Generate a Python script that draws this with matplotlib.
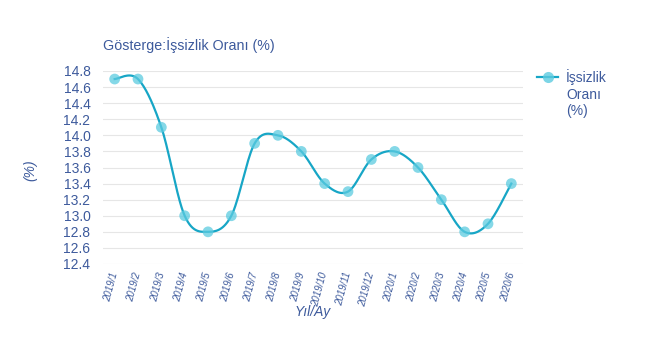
import numpy as np
import matplotlib.pyplot as plt
from matplotlib.lines import Line2D

months = ["2019/1", "2019/2", "2019/3", "2019/4", "2019/5", "2019/6", "2019/7",
          "2019/8", "2019/9", "2019/10", "2019/11", "2019/12", "2020/1", "2020/2",
          "2020/3", "2020/4", "2020/5", "2020/6"]
rate = [14.7, 14.7, 14.1, 13.0, 12.8, 13.0, 13.9, 14.0, 13.8, 13.4, 13.3, 13.7,
        13.8, 13.6, 13.2, 12.8, 12.9, 13.4]
yticks = [12.4, 12.6, 12.8, 13.0, 13.2, 13.4, 13.6, 13.8, 14.0, 14.2, 14.4, 14.6, 14.8]

txt = "#3d5a9c"
line_c = "#17a6c6"
mark_c = "#5ccbe0"

plt.rcParams["font.family"] = ["Liberation Sans", "DejaVu Sans"]


def smooth(xs, ys, n=30, t=0.5):
    # cardinal spline through the points, like the plotly "spline" shape
    xs = np.asarray(xs, float)
    ys = np.asarray(ys, float)
    px = np.concatenate([[xs[0]], xs, [xs[-1]]])
    py = np.concatenate([[ys[0]], ys, [ys[-1]]])
    ox, oy = [], []
    s = np.linspace(0, 1, n)
    h1 = 2 * s**3 - 3 * s**2 + 1
    h2 = -2 * s**3 + 3 * s**2
    h3 = s**3 - 2 * s**2 + s
    h4 = s**3 - s**2
    for i in range(1, len(px) - 2):
        mx0 = (px[i + 1] - px[i - 1]) * t
        my0 = (py[i + 1] - py[i - 1]) * t
        mx1 = (px[i + 2] - px[i]) * t
        my1 = (py[i + 2] - py[i]) * t
        ox.append(h1 * px[i] + h2 * px[i + 1] + h3 * mx0 + h4 * mx1)
        oy.append(h1 * py[i] + h2 * py[i + 1] + h3 * my0 + h4 * my1)
    return np.concatenate(ox), np.concatenate(oy)


fig = plt.figure(figsize=(6.6, 3.46), dpi=100)
ax = fig.add_axes([103 / 660, 1 - 264 / 346, 420 / 660, 193 / 346])

x = np.arange(len(months))
sx, sy = smooth(x, rate)
ax.plot(sx, sy, color=line_c, lw=1.6, zorder=3)
ax.scatter(x, rate, s=60, color=mark_c, alpha=0.75, edgecolors="none", zorder=4)

ax.set_xlim(-0.5, len(months) - 0.5)
ax.set_ylim(12.4, 14.8)
ax.set_yticks(yticks)
ax.set_yticklabels([f"{v:.1f}" for v in yticks], color=txt, fontsize=10)
ax.set_xticks(x)
ax.set_xticklabels(months, rotation=75, rotation_mode="anchor", ha="right",
                   va="center", color=txt, fontsize=7, style="italic")
ax.tick_params(axis="x", length=0, pad=6)
ax.tick_params(axis="y", length=0, pad=9)
ax.grid(axis="y", color="#e6e6e6", lw=0.8)
ax.set_axisbelow(True)
for sp in ax.spines.values():
    sp.set_visible(False)

fig.text(103 / 660, 1 - 45 / 346, "Gösterge:İşsizlik Oranı (%)", color=txt,
         fontsize=10.3, va="center")
fig.text(30 / 660, 1 - 170 / 346, "(%)", color=txt, fontsize=10, style="italic",
         rotation=90, va="center", ha="center")
fig.text(313 / 660, 1 - 312 / 346, "Yıl/Ay", color=txt, fontsize=10, style="italic",
         va="center", ha="center")

# legend drawn by hand to match the three-line label spacing
ly = 1 - 77 / 346
fig.add_artist(Line2D([537 / 660, 558 / 660], [ly, ly], color=line_c, lw=1.6))
fig.add_artist(Line2D([547.5 / 660], [ly], marker="o", markersize=8, color=mark_c,
                      markeredgecolor="none", alpha=0.8))
fig.text(566 / 660, 1 - 69 / 346, "İşsizlik\nOranı\n(%)", color=txt, fontsize=10,
         va="top", ha="left", linespacing=1.25)

fig.savefig("out.png", dpi=100, facecolor="white")
